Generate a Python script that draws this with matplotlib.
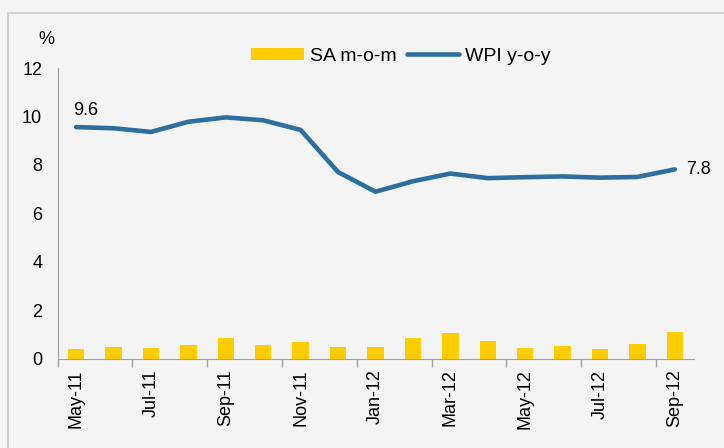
import matplotlib
matplotlib.use("Agg")
import matplotlib.pyplot as plt
from matplotlib.patches import Rectangle
import numpy as np

plt.rcParams['font.family'] = ['Liberation Sans', 'DejaVu Sans']

months = ["May-11", "Jun-11", "Jul-11", "Aug-11", "Sep-11", "Oct-11", "Nov-11", "Dec-11",
          "Jan-12", "Feb-12", "Mar-12", "Apr-12", "May-12", "Jun-12", "Jul-12", "Aug-12", "Sep-12"]
sa_mom = [0.39, 0.47, 0.43, 0.55, 0.84, 0.55, 0.67, 0.47, 0.47, 0.84, 1.05, 0.72, 0.43, 0.50, 0.39, 0.59, 1.09]
wpi_yoy = [9.56, 9.51, 9.36, 9.78, 9.96, 9.84, 9.44, 7.70, 6.89, 7.32, 7.64, 7.45, 7.49, 7.52, 7.47, 7.50, 7.81]

bg = '#F3F4F3'
bar_color = '#FFCC00'
line_color = '#2C6E9F'

fig = plt.figure(figsize=(7.24, 4.48), dpi=100, facecolor=bg)
ax = fig.add_axes([57.5/724, (448-358.5)/448, 636/724, 290.5/448])
ax.set_facecolor(bg)

# frame border
fig.patches.append(Rectangle((8/724, -0.1), 1.2, (448-13)/448 + 0.1, transform=fig.transFigure,
                             facecolor='none', edgecolor='#D0D0D0', linewidth=1.5, zorder=0))

x = np.arange(len(months))
bars = ax.bar(x, sa_mom, width=0.44, color=bar_color, label='SA m-o-m', zorder=2)
line, = ax.plot(x, wpi_yoy, color=line_color, linewidth=3.3, label='WPI y-o-y', zorder=3,
                solid_capstyle='round', solid_joinstyle='round')

ax.set_xlim(-0.5, len(months) - 0.5)
ax.set_ylim(0, 12)
ax.set_yticks(range(0, 13, 2))
ax.tick_params(axis='y', length=0, labelsize=13, pad=11)

ax.set_xticks(x[::2])
ax.set_xticklabels(months[::2], rotation=90, fontsize=13)
ax.set_xticks(np.arange(-0.5, len(months), 2), minor=True)
ax.tick_params(axis='x', which='major', length=0, pad=8)
ax.tick_params(axis='x', which='minor', length=6, color='#A0A0A0', width=1)

for s in ['top', 'right']:
    ax.spines[s].set_visible(False)
ax.spines['left'].set_color('#A0A0A0')
ax.spines['bottom'].set_color('#A0A0A0')

ax.annotate(f"{wpi_yoy[0]:.1f}", (x[0], wpi_yoy[0]), xytext=(-2.5, 6), textcoords='offset points',
            fontsize=13, ha='left', va='bottom')
ax.annotate(f"{wpi_yoy[-1]:.1f}", (x[-1], wpi_yoy[-1]), xytext=(8, 0), textcoords='offset points',
            fontsize=13, ha='left', va='center')

fig.text(46/724, 1 - 40/448, '%', fontsize=13, ha='center', va='center')

leg = ax.legend([bars, line], ['SA m-o-m', 'WPI y-o-y'], loc='center',
                bbox_to_anchor=(0.54, 1.04), ncol=2, frameon=False,
                fontsize=14, handlelength=2.7, handleheight=0.62, handletextpad=0.3,
                columnspacing=0.55, borderpad=0, borderaxespad=0)

fig.savefig('out.png', dpi=100, facecolor=bg)
